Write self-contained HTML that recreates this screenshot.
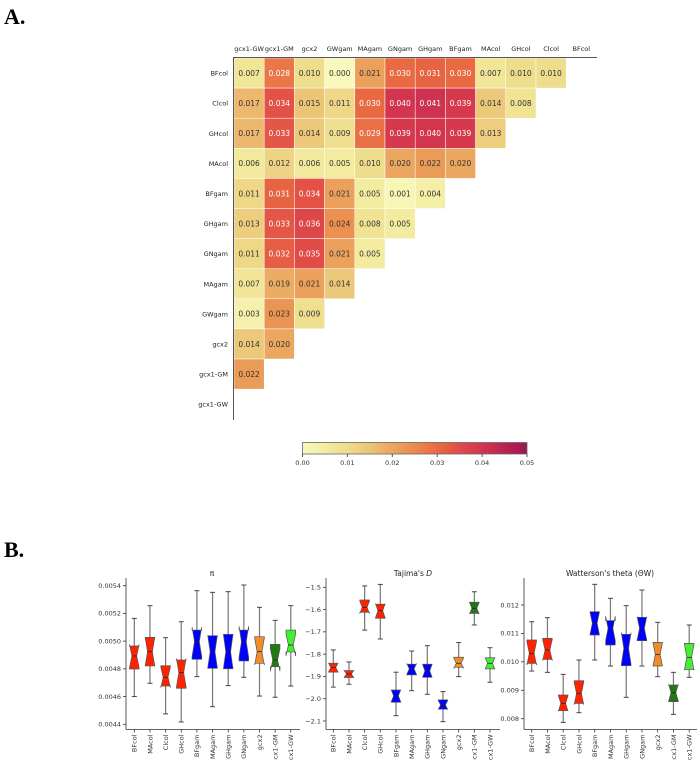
<!DOCTYPE html>
<html><head><meta charset="utf-8"><style>
body{margin:0;background:#fff;}
svg{display:block;font-family:"DejaVu Sans","Liberation Sans",sans-serif;}
</style></head><body>
<svg id="fig" width="699" height="760" viewBox="0 0 699 760" xmlns="http://www.w3.org/2000/svg">
<defs>
<linearGradient id="cbg" x1="0" x2="1" y1="0" y2="0">
<stop offset="0" stop-color="#f9f9bd"/><stop offset="0.1" stop-color="#f3eca0"/><stop offset="0.2" stop-color="#eedd8c"/><stop offset="0.3" stop-color="#ecc476"/><stop offset="0.4" stop-color="#eba65f"/><stop offset="0.5" stop-color="#eb8a4e"/><stop offset="0.6" stop-color="#e96a42"/><stop offset="0.7" stop-color="#e14b48"/><stop offset="0.8" stop-color="#d3354f"/><stop offset="0.9" stop-color="#b92452"/><stop offset="1" stop-color="#9c1750"/>
</linearGradient>
</defs>
<text x="4" y="24" font-family="Liberation Serif,serif" font-weight="bold" font-size="22">A.</text>
<text x="4" y="557" font-family="Liberation Serif,serif" font-weight="bold" font-size="22">B.</text>
<g id="heat"></g>
<g id="box1"></g>
<g id="box2"></g>
<g id="box3"></g>
</svg>
<script>
const colLabels=["gcx1-GW","gcx1-GM","gcx2","GWgam","MAgam","GNgam","GHgam","BFgam","MAcol","GHcol","Clcol","BFcol"];
const rowLabels=["BFcol","Clcol","GHcol","MAcol","BFgam","GHgam","GNgam","MAgam","GWgam","gcx2","gcx1-GM","gcx1-GW"];
const heatRow0=[0.007,0.028,0.010,0.000,0.021,0.030,0.031,0.030,0.007,0.010,0.010];
const heatRow1=[0.017,0.034,0.015,0.011,0.030,0.040,0.041,0.039,0.014,0.008];
const heatRow2=[0.017,0.033,0.014,0.009,0.029,0.039,0.040,0.039,0.013];
const heatRow3=[0.006,0.012,0.006,0.005,0.010,0.020,0.022,0.020];
const heatRow4=[0.011,0.031,0.034,0.021,0.005,0.001,0.004];
const heatRow5=[0.013,0.033,0.036,0.024,0.008,0.005];
const heatRow6=[0.011,0.032,0.035,0.021,0.005];
const heatRow7=[0.007,0.019,0.021,0.014];
const heatRow8=[0.003,0.023,0.009];
const heatRow9=[0.014,0.020];
const heatRow10=[0.022];
const heatRow11=[];
const heatRows=[heatRow0,heatRow1,heatRow2,heatRow3,heatRow4,heatRow5,heatRow6,heatRow7,heatRow8,heatRow9,heatRow10,heatRow11];
const cbTicks=[0,0.01,0.02,0.03,0.04,0.05];
const cbTickLabels=["0.00","0.01","0.02","0.03","0.04","0.05"];

const boxCats=["BFcol","MAcol","Clcol","GHcol","BFgam","MAgam","GHgam","GNgam","gcx2","gcx1-GM","gcx1-GW"];
const boxColors=["#ff2200","#ff2200","#ff2200","#ff2200","#0000ff","#0000ff","#0000ff","#0000ff","#f28c28","#1f7a14","#44ee33"];
// each: [whiskerHigh, q3, median, q1, whiskerLow]
const piStats=[[.005164,.004965,.004893,.004799,.004600],[.005256,.005027,.004924,.004821,.004696],[.005025,.004823,.004739,.004676,.004475],[.005140,.004864,.004773,.004660,.004417],[.005364,.005080,.004996,.004869,.004744],[.005352,.005039,.004924,.004804,.004527],[.005357,.005049,.004924,.004801,.004679],[.005405,.005080,.004996,.004857,.004739],[.005244,.005032,.004924,.004840,.004604],[.005150,.004977,.004864,.004816,.004595],[.005256,.005080,.004972,.004922,.004676]];
const piTicks=[0.0044,0.0046,0.0048,0.0050,0.0052,0.0054];
const piTickLabels=["0.0044","0.0046","0.0048","0.0050","0.0052","0.0054"];
const tajStats=[[-1.781,-1.841,-1.860,-1.881,-1.948],[-1.835,-1.874,-1.889,-1.905,-1.935],[-1.494,-1.557,-1.590,-1.612,-1.692],[-1.487,-1.576,-1.605,-1.639,-1.732],[-1.881,-1.961,-1.987,-2.016,-2.076],[-1.786,-1.845,-1.866,-1.893,-1.964],[-1.762,-1.845,-1.875,-1.904,-1.980],[-1.968,-2.005,-2.028,-2.047,-2.103],[-1.748,-1.814,-1.841,-1.859,-1.901],[-1.520,-1.567,-1.594,-1.617,-1.669],[-1.771,-1.816,-1.841,-1.866,-1.926]];
const tajTicks=[-2.1,-2.0,-1.9,-1.8,-1.7,-1.6,-1.5];
const tajTickLabels=["\u22122.1","\u22122.0","\u22121.9","\u22121.8","\u22121.7","\u22121.6","\u22121.5"];
const watStats=[[.011413,.010768,.010299,.009947,.009677],[.011554,.010827,.010416,.010088,.009631],[.009560,.008833,.008540,.008282,.007871],[.010065,.009337,.008891,.008540,.008211],[.012727,.011765,.011355,.010944,.010065],[.012235,.011449,.011179,.010592,.009853],[.011977,.010968,.010475,.009865,.008751],[.012528,.011566,.011179,.010745,.009853],[.011390,.010686,.010264,.009853,.009478],[.009631,.009185,.008915,.008598,.008152],[.011296,.010651,.010158,.009736,.009455]];
const watTicks=[0.008,0.009,0.010,0.011,0.012];
const watTickLabels=["0.008","0.009","0.010","0.011","0.012"];

const NS="http://www.w3.org/2000/svg";
function mk(parent,tag,attrs,text){const e=document.createElementNS(NS,tag);for(const k in attrs)e.setAttribute(k,attrs[k]);if(text!==undefined)e.textContent=text;parent.appendChild(e);return e;}

const stops=[[0,[249,249,189]],[.1,[243,236,160]],[.2,[238,221,140]],[.3,[236,196,118]],[.4,[235,166,95]],[.5,[235,138,78]],[.6,[233,106,66]],[.7,[225,75,72]],[.8,[211,53,79]],[.9,[185,36,82]],[1,[156,23,80]]];
function cmap(v){let t=Math.max(0,Math.min(1,v/0.05));for(let i=1;i<stops.length;i++){if(t<=stops[i][0]){const a=stops[i-1],b=stops[i];const f=(t-a[0])/(b[0]-a[0]);const c=a[1].map((x,j)=>Math.round(x+(b[1][j]-x)*f));return`rgb(${c})`;}}return"rgb(156,23,80)";}

const heat=document.getElementById('heat');
const hx0=234,hy0=58,cw=30.2,ch=30.1;
const hx=i=>hx0+i*cw, hy=j=>hy0+j*ch;
colLabels.forEach((c,i)=>{const t=mk(heat,'text',{x:hx(i)+cw/2,y:51,'font-size':6.5,'text-anchor':'middle',fill:'#222'},c);

});
rowLabels.forEach((r,j)=>{const t=mk(heat,'text',{x:228,y:hy(j)+ch/2+2.5,'font-size':6.5,'text-anchor':'end',fill:'#222'},r);

});
heatRows.forEach((row,j)=>row.forEach((v,i)=>{
const r=mk(heat,'rect',{x:hx(i),y:hy(j),width:cw,height:ch,fill:cmap(v),stroke:'#fff','stroke-width':0.5});


const t=mk(heat,'text',{x:hx(i)+cw/2,y:hy(j)+ch/2+2.8,'font-size':7.5,'text-anchor':'middle',fill:v>=0.025?'#fff':'#333'},v.toFixed(3));


}));
mk(heat,'line',{x1:hx0,y1:57.5,x2:597,y2:57.5,stroke:'#555','stroke-width':1});
mk(heat,'line',{x1:hx0-0.5,y1:57,x2:hx0-0.5,y2:420,stroke:'#555','stroke-width':1});
const cb=mk(heat,'rect',{x:302.5,y:442.5,width:224.5,height:11.5,fill:'url(#cbg)',stroke:'#666','stroke-width':0.8});


const cbx=v=>302.5+v/0.05*224.5;
cbTicks.forEach((v,i)=>{mk(heat,'line',{x1:cbx(v),y1:454,x2:cbx(v),y2:457,stroke:'#555'});
const t=mk(heat,'text',{x:cbx(v),y:465,'font-size':6.5,'text-anchor':'middle',fill:'#333'},cbTickLabels[i]);

});

function boxPanel(g,stats,ticks,tickLabels,spineX,x0,dx,yTopVal,yTopPx,yBotVal,yBotPx,right,titleX,title,italicPart){
const ys=v=>yTopPx+(v-yTopVal)/(yBotVal-yTopVal)*(yBotPx-yTopPx);
const bottom=729.5;
mk(g,'line',{x1:spineX,y1:578,x2:spineX,y2:bottom,stroke:'#333','stroke-width':0.8});
mk(g,'line',{x1:spineX,y1:bottom,x2:right,y2:bottom,stroke:'#333','stroke-width':0.8});
ticks.forEach((v,i)=>{mk(g,'line',{x1:spineX-3,y1:ys(v),x2:spineX,y2:ys(v),stroke:'#333','stroke-width':0.8});
const t=mk(g,'text',{x:spineX-5,y:ys(v)+2.3,'font-size':6.5,'text-anchor':'end',fill:'#333'},tickLabels[i]);

});
const tt=mk(g,'text',{x:titleX,y:576,'font-size':7.5,'text-anchor':'middle',fill:'#222'},title);


if(italicPart){mk(tt,'tspan',{'font-style':'italic'},italicPart);}
const hw=4.8;
stats.forEach((s,i)=>{
const cx=x0+i*dx;
const [wh,q3,md,q1,wl]=s;
const n=0.5*(q3-q1);
const nh=ys(md+n),nl=ys(md-n);
mk(g,'line',{x1:cx,y1:ys(wh),x2:cx,y2:ys(q3),stroke:'#777','stroke-width':1.2});
mk(g,'line',{x1:cx,y1:ys(q1),x2:cx,y2:ys(wl),stroke:'#777','stroke-width':1.2});
mk(g,'line',{x1:cx-2.5,y1:ys(wh),x2:cx+2.5,y2:ys(wh),stroke:'#444','stroke-width':1});
mk(g,'line',{x1:cx-2.5,y1:ys(wl),x2:cx+2.5,y2:ys(wl),stroke:'#444','stroke-width':1});
const nw=hw*0.5;
const pts=[[cx-hw,ys(q3)],[cx+hw,ys(q3)],[cx+hw,nh],[cx+nw,ys(md)],[cx+hw,nl],[cx+hw,ys(q1)],[cx-hw,ys(q1)],[cx-hw,nl],[cx-nw,ys(md)],[cx-hw,nh]];
const p=mk(g,'polygon',{points:pts.map(q=>q.join(',')).join(' '),fill:boxColors[i],stroke:'#555','stroke-width':0.7});


mk(g,'line',{x1:cx-nw,y1:ys(md),x2:cx+nw,y2:ys(md),stroke:'#222','stroke-width':0.8});
mk(g,'line',{x1:cx,y1:bottom,x2:cx,y2:bottom+3,stroke:'#333','stroke-width':0.8});
const t=mk(g,'text',{x:0,y:0,'font-size':6.5,'text-anchor':'end',fill:'#333',transform:`translate(${cx+2.3},${bottom+5}) rotate(-90)`},boxCats[i]);


});
}
boxPanel(document.getElementById('box1'),piStats,piTicks,piTickLabels,126,134.3,15.65,0.0054,585.7,0.0044,724.3,300,212,'\u03c0',null);
boxPanel(document.getElementById('box2'),tajStats,tajTicks,tajTickLabels,326,333.3,15.67,-1.5,587.3,-2.1,721,500,413,"Tajima's ",'D');
boxPanel(document.getElementById('box3'),watStats,watTicks,watTickLabels,524,531.7,15.75,0.012,605,0.008,718.7,697,610,"Watterson's theta (\u0398W)",null);
</script>
</body></html>
